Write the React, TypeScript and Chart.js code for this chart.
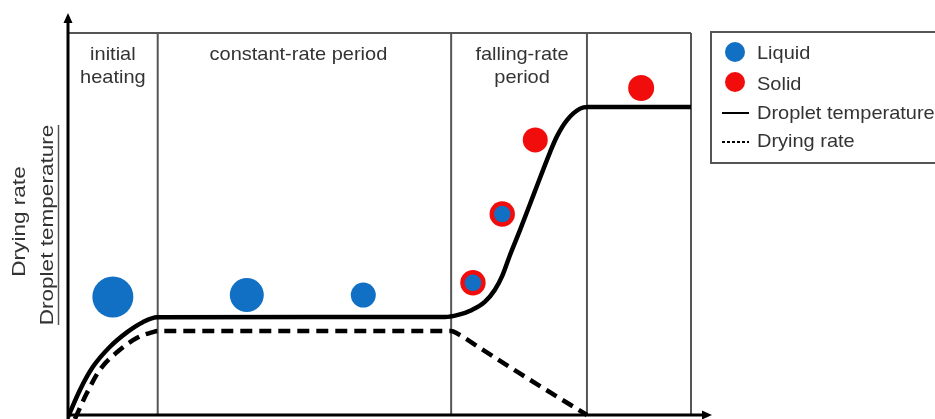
import React, { useEffect, useRef } from "react";
import { Chart, registerables } from "chart.js";

Chart.register(...registerables);

// ---- data (normalised time 0..100, normalised value 0..100) ----
const phaseBounds = [0, 14.4, 61.5, 83.3, 100];
const phaseLabels: string[][] = [["initial", "heating"], ["constant-rate period"], ["falling-rate", "period"], []];

const tempX = [0, 1.9, 4.0, 6.7, 9.5, 12.0, 14.3, 60.5, 62.6, 64.85, 66.9, 68.5, 69.7, 70.95, 72.55, 74.95, 77.4, 78.5, 80.1, 82.2, 83.5, 100];
const tempY = [-0.5, 6.5, 12.6, 17.8, 21.7, 24.3, 25.6, 25.65, 26.2, 27.5, 29.6, 32.7, 36.4, 41.9, 48.4, 58.6, 68.9, 73.0, 77.2, 80.2, 80.6, 80.6];

const dryX = [1.1, 3.05, 5.1, 7.9, 11.1, 13.6, 14.4, 61.5, 62.6, 66.0, 72.4, 79.0, 83.3];
const dryY = [-1.05, 5.8, 11.8, 16.5, 20.2, 21.7, 22.0, 22.0, 21.2, 17.7, 11.0, 4.3, 0];

const liquidX = [7.2, 28.7, 47.4, 65.0, 69.7];
const liquidY = [30.9, 31.4, 31.4, 34.6, 52.6];
const liquidR = [20.5, 17, 12.5, 8.3, 8.3];

const solidX = [65.0, 69.7, 75.0, 92.0];
const solidY = [34.6, 52.6, 72.0, 85.6];
const solidR = [12.7, 12.7, 12.5, 13];

const seriesNames = ["Liquid", "Solid", "Droplet temperature", "Drying rate"];
const yLabelTop = "Drying rate";
const yLabelBottom = "Droplet temperature";

const FONT = '"Liberation Sans", Arial, sans-serif';
const TEXT = "#333333";
const FRAME = "#555555";
const BLUE = "#1170c4";
const RED = "#f20d0d";

function stretchedText(ctx: CanvasRenderingContext2D, t: string, x: number, y: number, sx: number, align: CanvasTextAlign) {
  ctx.save();
  ctx.translate(x, y);
  ctx.scale(sx, 1);
  ctx.textAlign = align;
  ctx.fillText(t, 0, 0);
  ctx.restore();
}

const framePlugin = {
  id: "framePlugin",
  beforeDatasetsDraw(chart: any) {
    const ctx: CanvasRenderingContext2D = chart.ctx;
    const xs = chart.scales.x;
    const ys = chart.scales.y;
    const y0 = ys.getPixelForValue(0);
    const yTop = ys.getPixelForValue(100);
    ctx.save();
    ctx.strokeStyle = FRAME;
    ctx.lineWidth = 2;
    // dividers & right border
    phaseBounds.slice(1).forEach((b) => {
      const px = xs.getPixelForValue(b);
      ctx.beginPath();
      ctx.moveTo(px, y0);
      ctx.lineTo(px, yTop);
      ctx.stroke();
    });
    // top border
    ctx.beginPath();
    ctx.moveTo(xs.getPixelForValue(0), yTop);
    ctx.lineTo(xs.getPixelForValue(100), yTop);
    ctx.stroke();

    // phase labels
    ctx.fillStyle = TEXT;
    ctx.font = `18.5px ${FONT}`;
    ctx.textBaseline = "alphabetic";
    phaseLabels.forEach((lines, i) => {
      const cx = (xs.getPixelForValue(phaseBounds[i]) + xs.getPixelForValue(phaseBounds[i + 1])) / 2;
      const shift = i === 1 ? -6 : i === 2 ? 3 : 0;
      lines.forEach((l, j) => stretchedText(ctx, l, cx + shift, yTop + 27 + j * 23, 1.08, "center"));
    });
    ctx.restore();
  },
  afterDatasetsDraw(chart: any) {
    const ctx: CanvasRenderingContext2D = chart.ctx;
    const xs = chart.scales.x;
    const ys = chart.scales.y;
    const x0 = xs.getPixelForValue(0);
    const y0 = ys.getPixelForValue(0);
    ctx.save();
    // axes with arrows
    ctx.strokeStyle = "#000";
    ctx.fillStyle = "#000";
    ctx.lineWidth = 3;
    const xTip = xs.getPixelForValue(100) + 21;
    const yTip = ys.getPixelForValue(100) - 20;
    ctx.beginPath();
    ctx.moveTo(x0 - 1.5, y0);
    ctx.lineTo(xTip - 6, y0);
    ctx.moveTo(x0, chart.height);
    ctx.lineTo(x0, yTip + 6);
    ctx.stroke();
    ctx.beginPath();
    ctx.moveTo(xTip, y0);
    ctx.lineTo(xTip - 10, y0 - 4.5);
    ctx.lineTo(xTip - 10, y0 + 4.5);
    ctx.closePath();
    ctx.fill();
    ctx.beginPath();
    ctx.moveTo(x0, yTip);
    ctx.lineTo(x0 - 4.5, yTip + 10);
    ctx.lineTo(x0 + 4.5, yTip + 10);
    ctx.closePath();
    ctx.fill();

    // y label (rotated)
    ctx.fillStyle = TEXT;
    ctx.font = `18.5px ${FONT}`;
    ctx.textBaseline = "alphabetic";
    const drawRot = (t: string, bx: number, cy: number) => {
      ctx.save();
      ctx.translate(bx, cy);
      ctx.rotate(-Math.PI / 2);
      ctx.scale(1.22, 1);
      ctx.textAlign = "center";
      ctx.fillText(t, 0, 0);
      ctx.restore();
    };
    drawRot(yLabelTop, 25, 221.5);
    drawRot(yLabelBottom, 53, 225);
    ctx.strokeStyle = FRAME;
    ctx.lineWidth = 1.5;
    ctx.beginPath();
    ctx.moveTo(58.5, 125);
    ctx.lineTo(58.5, 325);
    ctx.stroke();

    // legend
    const ds = chart.data.datasets;
    const lx = 711;
    ctx.strokeStyle = FRAME;
    ctx.lineWidth = 2;
    ctx.strokeRect(lx, 32, 240, 131);
    const rows = [52, 82, 113, 142];
    const bases = [58.5, 89.5, 118.5, 147];
    ds.forEach((d: any, i: number) => {
      const cy = rows[i];
      if (d.type === "bubble") {
        ctx.fillStyle = d.backgroundColor;
        ctx.beginPath();
        ctx.arc(lx + 24, cy, 10, 0, Math.PI * 2);
        ctx.fill();
      } else {
        ctx.strokeStyle = "#000";
        ctx.lineWidth = 2;
        ctx.setLineDash(d.borderDash && d.borderDash.length ? [3, 2] : []);
        ctx.beginPath();
        ctx.moveTo(lx + 11, cy);
        ctx.lineTo(lx + 38, cy);
        ctx.stroke();
        ctx.setLineDash([]);
      }
      ctx.fillStyle = TEXT;
      ctx.font = `18.5px ${FONT}`;
      stretchedText(ctx, d.label, lx + 46, bases[i], 1.08, "left");
    });
    ctx.restore();
  },
};

export default function App() {
  const ref = useRef<HTMLCanvasElement | null>(null);
  useEffect(() => {
    if (!ref.current) return;
    const chart = new Chart(ref.current, {
      type: "bubble",
      data: {
        datasets: [
          {
            type: "bubble",
            label: seriesNames[0],
            data: liquidX.map((x, i) => ({ x, y: liquidY[i], r: liquidR[i] })),
            backgroundColor: BLUE,
            borderWidth: 0,
            order: 0,
          } as any,
          {
            type: "bubble",
            label: seriesNames[1],
            data: solidX.map((x, i) => ({ x, y: solidY[i], r: solidR[i] })),
            backgroundColor: RED,
            borderWidth: 0,
            order: 1,
          } as any,
          {
            type: "line",
            label: seriesNames[2],
            data: tempX.map((x, i) => ({ x, y: tempY[i] })),
            borderColor: "#000",
            borderWidth: 4.5,
            pointRadius: 0,
            fill: false,
            cubicInterpolationMode: "monotone",
            borderCapStyle: "round",
            order: 2,
          } as any,
          {
            type: "line",
            label: seriesNames[3],
            data: dryX.map((x, i) => ({ x, y: dryY[i] })),
            borderColor: "#000",
            borderWidth: 4.5,
            borderDash: [12, 7],
            pointRadius: 0,
            fill: false,
            cubicInterpolationMode: "monotone",
            order: 3,
          } as any,
        ],
      },
      options: {
        animation: false,
        responsive: false,
        events: [],
        layout: { autoPadding: false, padding: { left: 68, right: 244, top: 33, bottom: 0 } },
        scales: {
          x: { type: "linear", min: 0, max: 100, display: false },
          y: { type: "linear", min: -1.05, max: 100, display: false },
        },
        plugins: { legend: { display: false }, tooltip: { enabled: false } },
      },
      plugins: [framePlugin],
    });
    return () => chart.destroy();
  }, []);
  return (
    <div style={{ position: "absolute", left: 0, top: 0, width: 935, height: 419, background: "#fff" }}>
      <canvas ref={ref} width={935} height={419} style={{ width: 935, height: 419, display: "block" }} />
    </div>
  );
}
